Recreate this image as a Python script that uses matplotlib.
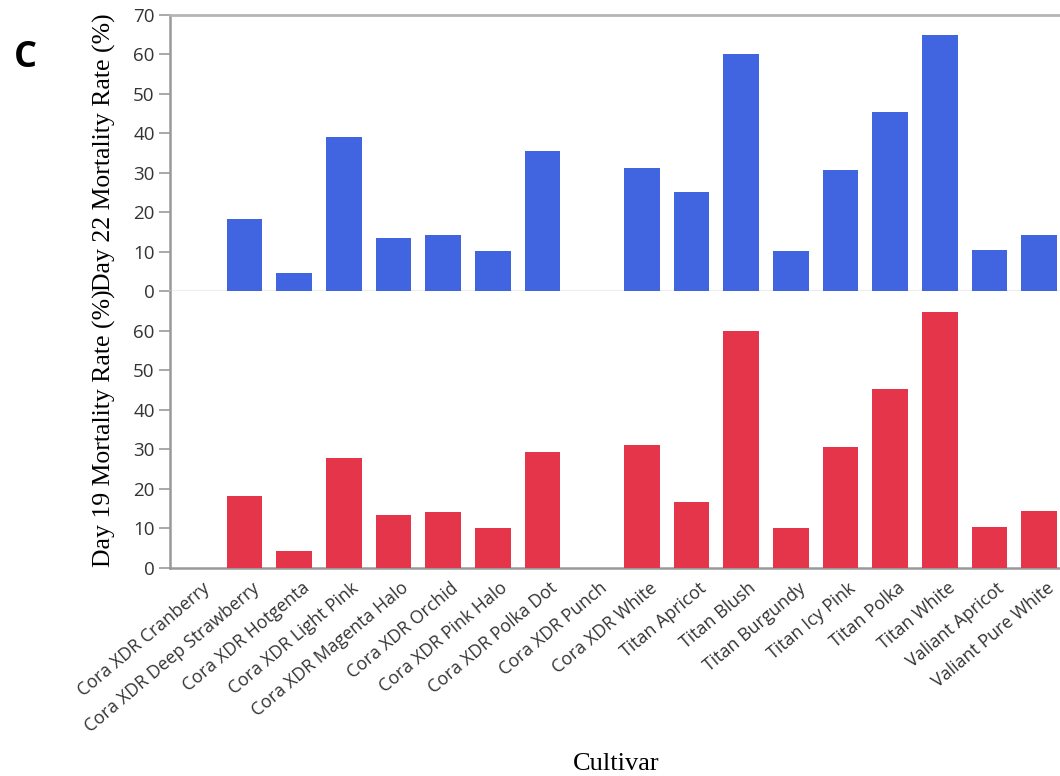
import matplotlib
matplotlib.use("Agg")
import matplotlib.pyplot as plt
import matplotlib.transforms as mtransforms
import numpy as np

cultivars = [
    "Cora XDR Cranberry", "Cora XDR Deep Strawberry", "Cora XDR Hotgenta",
    "Cora XDR Light Pink", "Cora XDR Magenta Halo", "Cora XDR Orchid",
    "Cora XDR Pink Halo", "Cora XDR Polka Dot", "Cora XDR Punch",
    "Cora XDR White", "Titan Apricot", "Titan Blush", "Titan Burgundy",
    "Titan Icy Pink", "Titan Polka", "Titan White", "Valiant Apricot",
    "Valiant Pure White",
]
day22_mortality = [0, 18.2, 4.5, 39.0, 13.4, 14.2, 10.1, 35.4, 0, 31.3,
                   25.0, 60.0, 10.1, 30.7, 45.4, 65.0, 10.5, 14.3]
day19_mortality = [0, 18.1, 4.3, 27.7, 13.3, 14.1, 10.0, 29.3, 0, 31.2,
                   16.7, 59.9, 10.0, 30.7, 45.3, 64.8, 10.4, 14.3]
day22_ticks = [0, 10, 20, 30, 40, 50, 60, 70]
day19_ticks = [0, 10, 20, 30, 40, 50, 60]

BLUE = "#4164E1"
RED = "#E4354B"
TICK_FONT = "Open Sans"
SERIF = "Liberation Serif"

W, H = 1060, 776
fig = plt.figure(figsize=(W / 100, H / 100), dpi=100)

left = 170 / W
width = (1064 - 170) / W
ax_top = fig.add_axes([left, 1 - 291 / H, width, (291 - 15) / H])
ax_bot = fig.add_axes([left, 1 - 568 / H, width, (568 - 291) / H])

x = np.arange(len(cultivars))
bar_w = 0.715

ax_top.bar(x, day22_mortality, width=bar_w, color=BLUE, zorder=3)
ax_bot.bar(x, day19_mortality, width=bar_w, color=RED, zorder=3)

for ax, ticks in ((ax_top, day22_ticks), (ax_bot, day19_ticks)):
    ax.set_xlim(-0.5, len(cultivars) - 0.5)
    ax.set_ylim(0, 70)
    ax.set_yticks(ticks)
    ax.set_yticklabels([str(t) for t in ticks], fontfamily=TICK_FONT,
                       fontsize=13.5, color="#333333")
    ax.tick_params(axis="y", length=8, width=1.2, color="#999999", pad=3)
    ax.spines["left"].set_color("#999999")
    ax.spines["left"].set_linewidth(1.8)
    ax.spines["right"].set_visible(False)
    ax.set_facecolor("white")

# upper panel frame
ax_top.spines["top"].set_color("#b5b5b5")
ax_top.spines["top"].set_linewidth(2)
ax_top.spines["bottom"].set_color("#ececec")
ax_top.spines["bottom"].set_linewidth(1.5)
ax_top.set_xticks([])

# lower panel frame and category labels
ax_bot.spines["top"].set_visible(False)
ax_bot.spines["bottom"].set_color("#999999")
ax_bot.spines["bottom"].set_linewidth(1.8)
ax_bot.set_xticks(x)
ax_bot.set_xticklabels(cultivars, rotation=40, ha="right", va="top",
                       rotation_mode="anchor", fontfamily=TICK_FONT,
                       fontsize=12.8, color="#333333")
ax_bot.tick_params(axis="x", length=0, pad=8)
shift = mtransforms.ScaledTranslation(7 / 100, 0, fig.dpi_scale_trans)
for lbl in ax_bot.get_xticklabels():
    lbl.set_transform(lbl.get_transform() + shift)

# axis titles
fig.text(104 / W, 1 - 152 / H, "Day 22 Mortality Rate (%)", rotation=90,
         ha="center", va="center", fontfamily=SERIF, fontsize=18.5, color="black")
fig.text(104 / W, 1 - 428 / H, "Day 19 Mortality Rate (%)", rotation=90,
         ha="center", va="center", fontfamily=SERIF, fontsize=18.5, color="black")
fig.text(616 / W, 1 - 770 / H, "Cultivar", ha="center", va="baseline",
         fontfamily=SERIF, fontsize=19, color="black")

# panel letter
fig.text(25 / W, 1 - 67 / H, "C", ha="center", va="baseline",
         fontfamily="Open Sans", fontweight="bold", fontsize=26, color="black")

fig.savefig("out.png", dpi=100, facecolor="white")
